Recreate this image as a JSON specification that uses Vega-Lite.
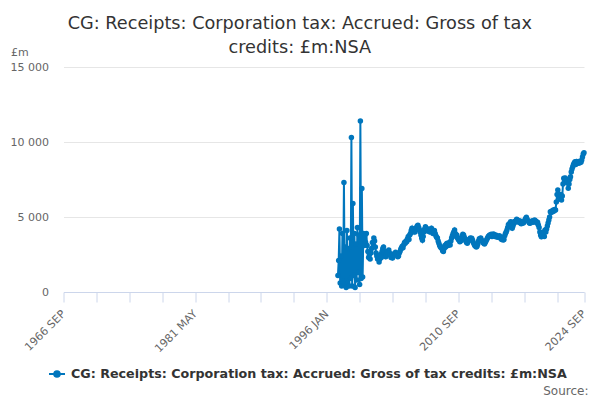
{
  "$schema": "https://vega.github.io/schema/vega-lite/v6.json",
  "autosize": "none",
  "width": 520.5,
  "height": 225,
  "padding": {"left": 63.5, "top": 67, "right": 16, "bottom": 108},
  "background": "white",
  "title": {
    "text": ["CG: Receipts: Corporation tax: Accrued: Gross of tax", "credits: £m:NSA"],
    "font": "DejaVu Sans",
    "fontSize": 17.7,
    "fontWeight": "normal",
    "color": "#333333",
    "anchor": "middle",
    "frame": "group",
    "dx": -24,
    "offset": -11,
    "lineHeight": 24
  },
  "data": {
    "format": {"parse": {"date": "utc:'%Y-%m'"}},
    "values": [
      {"date": "1997-04", "value": 1100}, {"date": "1997-05", "value": 2100}, {"date": "1997-06", "value": 4200},
      {"date": "1997-07", "value": 600}, {"date": "1997-08", "value": 2400}, {"date": "1997-09", "value": 400},
      {"date": "1997-10", "value": 3900}, {"date": "1997-11", "value": 700}, {"date": "1997-12", "value": 7300},
      {"date": "1998-01", "value": 500}, {"date": "1998-02", "value": 3000}, {"date": "1998-03", "value": 300},
      {"date": "1998-04", "value": 4100}, {"date": "1998-05", "value": 600}, {"date": "1998-06", "value": 2900},
      {"date": "1998-07", "value": 400}, {"date": "1998-08", "value": 3600}, {"date": "1998-09", "value": 900},
      {"date": "1998-10", "value": 10300}, {"date": "1998-11", "value": 400}, {"date": "1998-12", "value": 5900},
      {"date": "1999-01", "value": 1100}, {"date": "1999-02", "value": 3900}, {"date": "1999-03", "value": 300},
      {"date": "1999-04", "value": 3200}, {"date": "1999-05", "value": 800}, {"date": "1999-06", "value": 4300},
      {"date": "1999-07", "value": 1300}, {"date": "1999-08", "value": 3800}, {"date": "1999-09", "value": 500},
      {"date": "1999-10", "value": 11400}, {"date": "1999-11", "value": 900}, {"date": "1999-12", "value": 6900},
      {"date": "2000-01", "value": 1000}, {"date": "2000-02", "value": 3900}, {"date": "2000-03", "value": 3100},
      {"date": "2000-04", "value": 3800}, {"date": "2000-05", "value": 3300}, {"date": "2000-06", "value": 3900},
      {"date": "2000-07", "value": 3100}, {"date": "2000-08", "value": 2700}, {"date": "2000-09", "value": 2300},
      {"date": "2000-10", "value": 2500}, {"date": "2000-11", "value": 2200}, {"date": "2000-12", "value": 2600},
      {"date": "2001-01", "value": 2900}, {"date": "2001-02", "value": 3300}, {"date": "2001-03", "value": 3000},
      {"date": "2001-04", "value": 3600}, {"date": "2001-05", "value": 3400}, {"date": "2001-06", "value": 3000},
      {"date": "2001-07", "value": 2600}, {"date": "2001-08", "value": 2400}, {"date": "2001-09", "value": 2200},
      {"date": "2001-10", "value": 2300}, {"date": "2001-11", "value": 2000}, {"date": "2001-12", "value": 2200},
      {"date": "2002-01", "value": 2500}, {"date": "2002-02", "value": 2300}, {"date": "2002-03", "value": 2700},
      {"date": "2002-04", "value": 2900}, {"date": "2002-05", "value": 3000}, {"date": "2002-06", "value": 2700},
      {"date": "2002-07", "value": 2500}, {"date": "2002-08", "value": 2350}, {"date": "2002-09", "value": 2500},
      {"date": "2002-10", "value": 2700}, {"date": "2002-11", "value": 2600}, {"date": "2002-12", "value": 2800},
      {"date": "2003-01", "value": 2600}, {"date": "2003-02", "value": 2450}, {"date": "2003-03", "value": 2300},
      {"date": "2003-04", "value": 2400}, {"date": "2003-05", "value": 2270}, {"date": "2003-06", "value": 2450},
      {"date": "2003-07", "value": 2550}, {"date": "2003-08", "value": 2500}, {"date": "2003-09", "value": 2650},
      {"date": "2003-10", "value": 2550}, {"date": "2003-11", "value": 2450}, {"date": "2003-12", "value": 2350},
      {"date": "2004-01", "value": 2400}, {"date": "2004-02", "value": 2600}, {"date": "2004-03", "value": 2700},
      {"date": "2004-04", "value": 2850}, {"date": "2004-05", "value": 2950}, {"date": "2004-06", "value": 3050},
      {"date": "2004-07", "value": 2950}, {"date": "2004-08", "value": 3150}, {"date": "2004-09", "value": 3300},
      {"date": "2004-10", "value": 3250}, {"date": "2004-11", "value": 3400}, {"date": "2004-12", "value": 3350},
      {"date": "2005-01", "value": 3550}, {"date": "2005-02", "value": 3700}, {"date": "2005-03", "value": 3500},
      {"date": "2005-04", "value": 3800}, {"date": "2005-05", "value": 3900}, {"date": "2005-06", "value": 4100},
      {"date": "2005-07", "value": 4250}, {"date": "2005-08", "value": 4000}, {"date": "2005-09", "value": 4100},
      {"date": "2005-10", "value": 4200}, {"date": "2005-11", "value": 4000}, {"date": "2005-12", "value": 4150},
      {"date": "2006-01", "value": 4300}, {"date": "2006-02", "value": 4400}, {"date": "2006-03", "value": 4450},
      {"date": "2006-04", "value": 4300}, {"date": "2006-05", "value": 4150}, {"date": "2006-06", "value": 4000},
      {"date": "2006-07", "value": 3800}, {"date": "2006-08", "value": 3600}, {"date": "2006-09", "value": 3450},
      {"date": "2006-10", "value": 3700}, {"date": "2006-11", "value": 4000}, {"date": "2006-12", "value": 4200},
      {"date": "2007-01", "value": 4350}, {"date": "2007-02", "value": 4250}, {"date": "2007-03", "value": 4100},
      {"date": "2007-04", "value": 4200}, {"date": "2007-05", "value": 4050}, {"date": "2007-06", "value": 4150},
      {"date": "2007-07", "value": 4000}, {"date": "2007-08", "value": 4130}, {"date": "2007-09", "value": 4250},
      {"date": "2007-10", "value": 4050}, {"date": "2007-11", "value": 3900}, {"date": "2007-12", "value": 4000},
      {"date": "2008-01", "value": 4100}, {"date": "2008-02", "value": 3900}, {"date": "2008-03", "value": 3750},
      {"date": "2008-04", "value": 3650}, {"date": "2008-05", "value": 3600}, {"date": "2008-06", "value": 3400},
      {"date": "2008-07", "value": 3250}, {"date": "2008-08", "value": 3100}, {"date": "2008-09", "value": 3000},
      {"date": "2008-10", "value": 2950}, {"date": "2008-11", "value": 2900}, {"date": "2008-12", "value": 2750},
      {"date": "2009-01", "value": 2700}, {"date": "2009-02", "value": 2900}, {"date": "2009-03", "value": 3100},
      {"date": "2009-04", "value": 3000}, {"date": "2009-05", "value": 3200}, {"date": "2009-06", "value": 3250},
      {"date": "2009-07", "value": 3100}, {"date": "2009-08", "value": 3150}, {"date": "2009-09", "value": 3300},
      {"date": "2009-10", "value": 3130}, {"date": "2009-11", "value": 3400}, {"date": "2009-12", "value": 3600},
      {"date": "2010-01", "value": 3750}, {"date": "2010-02", "value": 3900}, {"date": "2010-03", "value": 4000},
      {"date": "2010-04", "value": 4130}, {"date": "2010-05", "value": 3900}, {"date": "2010-06", "value": 3700},
      {"date": "2010-07", "value": 3800}, {"date": "2010-08", "value": 3600}, {"date": "2010-09", "value": 3500},
      {"date": "2010-10", "value": 3450}, {"date": "2010-11", "value": 3350}, {"date": "2010-12", "value": 3400},
      {"date": "2011-01", "value": 3600}, {"date": "2011-02", "value": 3700}, {"date": "2011-03", "value": 3850},
      {"date": "2011-04", "value": 3800}, {"date": "2011-05", "value": 3650}, {"date": "2011-06", "value": 3500},
      {"date": "2011-07", "value": 3400}, {"date": "2011-08", "value": 3300}, {"date": "2011-09", "value": 3250},
      {"date": "2011-10", "value": 3400}, {"date": "2011-11", "value": 3500}, {"date": "2011-12", "value": 3450},
      {"date": "2012-01", "value": 3600}, {"date": "2012-02", "value": 3500}, {"date": "2012-03", "value": 3580},
      {"date": "2012-04", "value": 3450}, {"date": "2012-05", "value": 3300}, {"date": "2012-06", "value": 3200},
      {"date": "2012-07", "value": 3100}, {"date": "2012-08", "value": 3050}, {"date": "2012-09", "value": 3000},
      {"date": "2012-10", "value": 3050}, {"date": "2012-11", "value": 3200}, {"date": "2012-12", "value": 3400},
      {"date": "2013-01", "value": 3550}, {"date": "2013-02", "value": 3500}, {"date": "2013-03", "value": 3600},
      {"date": "2013-04", "value": 3450}, {"date": "2013-05", "value": 3400}, {"date": "2013-06", "value": 3300},
      {"date": "2013-07", "value": 3250}, {"date": "2013-08", "value": 3200}, {"date": "2013-09", "value": 3300},
      {"date": "2013-10", "value": 3400}, {"date": "2013-11", "value": 3500}, {"date": "2013-12", "value": 3600},
      {"date": "2014-01", "value": 3700}, {"date": "2014-02", "value": 3750}, {"date": "2014-03", "value": 3800},
      {"date": "2014-04", "value": 3750}, {"date": "2014-05", "value": 3850}, {"date": "2014-06", "value": 3700},
      {"date": "2014-07", "value": 3800}, {"date": "2014-08", "value": 3870}, {"date": "2014-09", "value": 3750},
      {"date": "2014-10", "value": 3700}, {"date": "2014-11", "value": 3800}, {"date": "2014-12", "value": 3750},
      {"date": "2015-01", "value": 3650}, {"date": "2015-02", "value": 3700}, {"date": "2015-03", "value": 3690},
      {"date": "2015-04", "value": 3750}, {"date": "2015-05", "value": 3650}, {"date": "2015-06", "value": 3550},
      {"date": "2015-07", "value": 3500}, {"date": "2015-08", "value": 3600}, {"date": "2015-09", "value": 3470},
      {"date": "2015-10", "value": 3500}, {"date": "2015-11", "value": 3750}, {"date": "2015-12", "value": 3900},
      {"date": "2016-01", "value": 4000}, {"date": "2016-02", "value": 4130}, {"date": "2016-03", "value": 4300},
      {"date": "2016-04", "value": 4500}, {"date": "2016-05", "value": 4400}, {"date": "2016-06", "value": 4600},
      {"date": "2016-07", "value": 4690}, {"date": "2016-08", "value": 4400}, {"date": "2016-09", "value": 4250},
      {"date": "2016-10", "value": 4400}, {"date": "2016-11", "value": 4550}, {"date": "2016-12", "value": 4700},
      {"date": "2017-01", "value": 4650}, {"date": "2017-02", "value": 4750}, {"date": "2017-03", "value": 4850},
      {"date": "2017-04", "value": 4800}, {"date": "2017-05", "value": 4700}, {"date": "2017-06", "value": 4650},
      {"date": "2017-07", "value": 4750}, {"date": "2017-08", "value": 4600}, {"date": "2017-09", "value": 4550},
      {"date": "2017-10", "value": 4580}, {"date": "2017-11", "value": 4650}, {"date": "2017-12", "value": 4600},
      {"date": "2018-01", "value": 4700}, {"date": "2018-02", "value": 4800}, {"date": "2018-03", "value": 4900},
      {"date": "2018-04", "value": 4980}, {"date": "2018-05", "value": 4850}, {"date": "2018-06", "value": 4750},
      {"date": "2018-07", "value": 4700}, {"date": "2018-08", "value": 4600}, {"date": "2018-09", "value": 4580},
      {"date": "2018-10", "value": 4650}, {"date": "2018-11", "value": 4700}, {"date": "2018-12", "value": 4750},
      {"date": "2019-01", "value": 4650}, {"date": "2019-02", "value": 4700}, {"date": "2019-03", "value": 4800},
      {"date": "2019-04", "value": 4750}, {"date": "2019-05", "value": 4700}, {"date": "2019-06", "value": 4600},
      {"date": "2019-07", "value": 4650}, {"date": "2019-08", "value": 4470}, {"date": "2019-09", "value": 4300},
      {"date": "2019-10", "value": 4000}, {"date": "2019-11", "value": 3800}, {"date": "2019-12", "value": 3690},
      {"date": "2020-01", "value": 3910}, {"date": "2020-02", "value": 3750}, {"date": "2020-03", "value": 4000},
      {"date": "2020-04", "value": 3700}, {"date": "2020-05", "value": 4130}, {"date": "2020-06", "value": 4000},
      {"date": "2020-07", "value": 4200}, {"date": "2020-08", "value": 4400}, {"date": "2020-09", "value": 4600},
      {"date": "2020-10", "value": 4800}, {"date": "2020-11", "value": 5000}, {"date": "2020-12", "value": 5350},
      {"date": "2021-01", "value": 5300}, {"date": "2021-02", "value": 5400}, {"date": "2021-03", "value": 5350},
      {"date": "2021-04", "value": 5470}, {"date": "2021-05", "value": 5400}, {"date": "2021-06", "value": 5500},
      {"date": "2021-07", "value": 5470}, {"date": "2021-08", "value": 6000}, {"date": "2021-09", "value": 6500},
      {"date": "2021-10", "value": 6800}, {"date": "2021-11", "value": 6500}, {"date": "2021-12", "value": 6300},
      {"date": "2022-01", "value": 6200}, {"date": "2022-02", "value": 6500}, {"date": "2022-03", "value": 6130},
      {"date": "2022-04", "value": 6400}, {"date": "2022-05", "value": 7200}, {"date": "2022-06", "value": 7580},
      {"date": "2022-07", "value": 7400}, {"date": "2022-08", "value": 7600}, {"date": "2022-09", "value": 7500},
      {"date": "2022-10", "value": 7300}, {"date": "2022-11", "value": 7470}, {"date": "2022-12", "value": 6910},
      {"date": "2023-01", "value": 7200}, {"date": "2023-02", "value": 7500}, {"date": "2023-03", "value": 7690},
      {"date": "2023-04", "value": 8000}, {"date": "2023-05", "value": 8200}, {"date": "2023-06", "value": 8350},
      {"date": "2023-07", "value": 8500}, {"date": "2023-08", "value": 8600}, {"date": "2023-09", "value": 8690},
      {"date": "2023-10", "value": 8500}, {"date": "2023-11", "value": 8700}, {"date": "2023-12", "value": 8600},
      {"date": "2024-01", "value": 8580}, {"date": "2024-02", "value": 8700}, {"date": "2024-03", "value": 8600},
      {"date": "2024-04", "value": 8690}, {"date": "2024-05", "value": 8650}, {"date": "2024-06", "value": 8800},
      {"date": "2024-07", "value": 9000}, {"date": "2024-08", "value": 9200}, {"date": "2024-09", "value": 9290}
    ]
  },
  "encoding": {
    "x": {
      "field": "date",
      "type": "temporal",
      "scale": {
        "type": "utc",
        "domain": [
          {"year": 1966, "month": 9, "date": 1, "utc": true},
          {"year": 2024, "month": 9, "date": 1, "utc": true}
        ]
      },
      "axis": {
        "values": [
          {"year": 1966, "month": 9, "date": 1, "utc": true},
          {"year": 1970, "month": 5, "date": 1, "utc": true},
          {"year": 1974, "month": 1, "date": 1, "utc": true},
          {"year": 1977, "month": 9, "date": 1, "utc": true},
          {"year": 1981, "month": 5, "date": 1, "utc": true},
          {"year": 1985, "month": 1, "date": 1, "utc": true},
          {"year": 1988, "month": 9, "date": 1, "utc": true},
          {"year": 1992, "month": 5, "date": 1, "utc": true},
          {"year": 1996, "month": 1, "date": 1, "utc": true},
          {"year": 1999, "month": 9, "date": 1, "utc": true},
          {"year": 2003, "month": 5, "date": 1, "utc": true},
          {"year": 2007, "month": 1, "date": 1, "utc": true},
          {"year": 2010, "month": 9, "date": 1, "utc": true},
          {"year": 2014, "month": 5, "date": 1, "utc": true},
          {"year": 2018, "month": 1, "date": 1, "utc": true},
          {"year": 2021, "month": 9, "date": 1, "utc": true},
          {"year": 2024, "month": 9, "date": 1, "utc": true}
        ],
        "labelExpr": "indexof(['1966-09','1981-05','1996-01','2010-09','2024-09'], utcFormat(datum.value, '%Y-%m')) >= 0 ? upper(utcFormat(datum.value, '%Y %b')) : ''",
        "labelAngle": -45,
        "labelAlign": "right",
        "labelBaseline": "middle",
        "labelPadding": 10,
        "labelOverlap": false,
        "labelFlush": false,
        "labelBound": false,
        "labelFontSize": 11,
        "labelColor": "#666666",
        "grid": false,
        "domainColor": "#ccd6eb",
        "tickColor": "#ccd6eb",
        "tickSize": 10,
        "title": "Source:",
        "titleX": 524.5,
        "titleY": 102,
        "titleAlign": "right",
        "titleBaseline": "alphabetic",
        "titleFontSize": 12,
        "titleFontWeight": "normal",
        "titleColor": "#666666"
      }
    },
    "y": {
      "field": "value",
      "type": "quantitative",
      "scale": {"domain": [0, 15000], "nice": false},
      "axis": {
        "values": [0, 5000, 10000, 15000],
        "labelExpr": "replace(format(datum.value, ','), ',', ' ')",
        "labelPadding": 15,
        "labelFontSize": 11,
        "labelColor": "#666666",
        "domain": false,
        "ticks": false,
        "gridColor": "#e6e6e6",
        "title": "£m",
        "titleAngle": 0,
        "titleAlign": "left",
        "titleBaseline": "alphabetic",
        "titleX": -53,
        "titleY": -12,
        "titleFontSize": 11,
        "titleFontWeight": "normal",
        "titleColor": "#666666"
      }
    },
    "color": {
      "datum": "CG: Receipts: Corporation tax: Accrued: Gross of tax credits: £m:NSA",
      "type": "nominal",
      "scale": {"range": ["#0076bd"]},
      "legend": {
        "orient": "none",
        "legendX": -15.5,
        "legendY": 298,
        "title": null,
        "labelFontSize": 12.7,
        "labelFontWeight": "bold",
        "labelColor": "#333333",
        "labelOffset": 5,
        "labelLimit": 0,
        "symbolType": "M-1,0L1,0M0.35,0A0.35,0.35,0,1,1,-0.35,0A0.35,0.35,0,1,1,0.35,0Z",
        "symbolSize": 256,
        "symbolStrokeWidth": 2,
        "symbolFillColor": "#0076bd",
        "symbolStrokeColor": "#0076bd"
      }
    }
  },
  "layer": [
    {"mark": {"type": "line", "strokeWidth": 2}},
    {"mark": {"type": "point", "filled": true, "size": 30, "opacity": 1}}
  ],
  "config": {
    "font": "DejaVu Sans",
    "view": {"stroke": null}
  }
}
